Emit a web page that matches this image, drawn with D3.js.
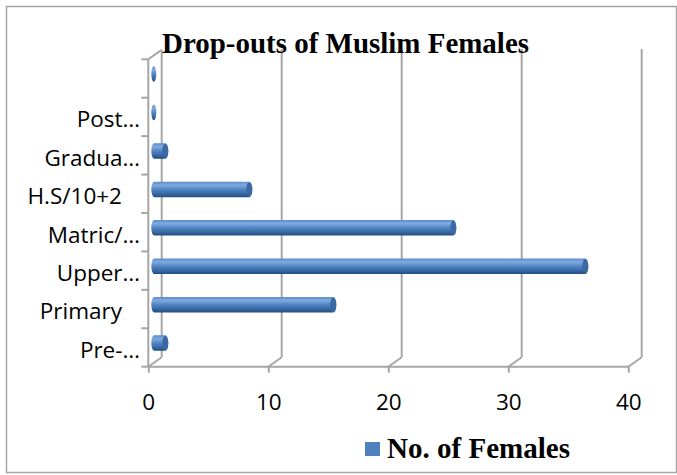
<!DOCTYPE html>
<html>
<head>
<meta charset="utf-8">
<script src="https://cdn.jsdelivr.net/npm/d3@7"></script>
<style>
  html, body { margin: 0; padding: 0; background: #fff; }
  svg { display: block; }
</style>
</head>
<body>
<svg id="chart" width="677" height="475"></svg>
<script>
// ---- data (top to bottom as displayed) ----
const categories = ["", "Post…", "Gradua…", "H.S/10+2", "Matric/…", "Upper…", "Primary", "Pre-…"];
const values     = [0, 0, 1, 8, 25, 36, 15, 1];
const xTicks     = [0, 10, 20, 30, 40];
const chartTitle = "Drop-outs of Muslim Females";
const seriesName = "No. of Females";

const svg = d3.select("#chart");

// outer frame
svg.append("rect").attr("x", 6.5).attr("y", 6.5).attr("width", 670).attr("height", 466)
  .attr("fill", "#fff").attr("stroke", "#a6a6a6").attr("stroke-width", 1.5);

const x = d3.scaleLinear().domain([0, 40]).range([148.3, 628.3]);
const y = d3.scaleBand().domain(categories).range([59.3, 366.7]).paddingInner(0).paddingOuter(0);
const dx = 13.4, dy = -9.4; // depth offset
const yTop = 49, yBase = 366.7;

const defs = svg.append("defs");
const grad = defs.append("linearGradient").attr("id", "barGrad")
  .attr("x1", 0).attr("y1", 0).attr("x2", 0).attr("y2", 1);
[[0, "#5a8bcb"], [0.22, "#80abe0"], [0.5, "#5285c3"], [0.82, "#33649f"], [1, "#244d7c"]]
  .forEach(([o, c]) => grad.append("stop").attr("offset", o).attr("stop-color", c));

const grid = svg.append("g").attr("fill", "none").attr("stroke", "#a6a6a6").attr("stroke-width", 2);

// back vertical gridlines + floor diagonals
xTicks.forEach(t => {
  grid.append("line").attr("x1", x(t) + dx).attr("x2", x(t) + dx)
    .attr("y1", yBase + dy).attr("y2", t === 0 ? yTop + 1 : yTop);
  grid.append("line").attr("x1", x(t)).attr("y1", yBase)
    .attr("x2", x(t) + dx).attr("y2", yBase + dy);
});
// left wall top diagonal
grid.append("line").attr("x1", x(0)).attr("y1", y.range()[0])
  .attr("x2", x(0) + dx).attr("y2", y.range()[0] + dy);

// front x axis
const xAxis = d3.axisBottom(x).tickValues(xTicks).tickSize(6).tickPadding(10).tickFormat(d3.format("d"));
const gx = svg.append("g").attr("transform", `translate(0,${yBase})`).call(xAxis);
gx.select(".domain").attr("stroke", "#a6a6a6").attr("stroke-width", 2).attr("d", `M${x(0)},0H${x(40)}`);
gx.selectAll(".tick line").attr("stroke", "#a6a6a6").attr("stroke-width", 2);
gx.selectAll(".tick text").attr("font-family", "'Open Sans', sans-serif").attr("font-size", 22.5)
  .attr("fill", "#000").attr("dy", null).attr("y", 43.5);

// front y axis
const yAxis = d3.axisLeft(y).tickSize(0).tickFormat("");
const gy = svg.append("g").attr("transform", `translate(${x(0)},0)`).call(yAxis);
gy.select(".domain").attr("stroke", "#a6a6a6").attr("stroke-width", 2).attr("d", `M0,${y.range()[0]}V${yBase}`);
// category boundary ticks
const bounds = categories.map(c => y(c)).concat([y.range()[1]]);
svg.append("g").selectAll("line").data(bounds).join("line")
  .attr("x1", x(0) - 7).attr("x2", x(0)).attr("y1", d => d).attr("y2", d => d)
  .attr("stroke", "#a6a6a6").attr("stroke-width", 2);

// category labels
svg.append("g").selectAll("text").data(categories).join("text")
  .attr("x", d => d.endsWith("…") ? 140 : 122)
  .attr("y", d => y(d) + y.bandwidth() / 2 + 10.3)
  .attr("text-anchor", "end")
  .attr("font-family", "'Open Sans', sans-serif").attr("font-size", 22.5).attr("fill", "#000")
  .text(d => d);

// bars (cylinders at mid depth)
const barH = 15.5;
const bars = svg.append("g");
categories.forEach((c, i) => {
  const cy = y(c) + y.bandwidth() / 2 - 4.4;
  const x0 = x(0) + 3, x1 = x(values[i]) + 8;
  bars.append("rect").attr("x", x0).attr("y", cy - barH / 2)
    .attr("width", x1 - x0).attr("height", barH)
    .attr("rx", 3).attr("ry", barH / 2)
    .attr("fill", "url(#barGrad)");
  if (values[i] > 0) {
    bars.append("ellipse").attr("cx", x1 - 3).attr("cy", cy).attr("rx", 3).attr("ry", barH / 2 - 0.5)
      .attr("fill", "#3b69a4");
  }
});

// title
svg.append("text").attr("x", 345.5).attr("y", 53).attr("text-anchor", "middle")
  .attr("font-family", "'Liberation Serif', 'Times New Roman', serif").attr("font-weight", "bold")
  .attr("font-size", 28.5).attr("textLength", 367).attr("lengthAdjust", "spacingAndGlyphs")
  .attr("fill", "#000").text(chartTitle);

// legend
const lg = svg.append("g");
lg.append("rect").attr("x", 365).attr("y", 442).attr("width", 15).attr("height", 14).attr("fill", "#4f81bd");
lg.append("text").attr("x", 387).attr("y", 458)
  .attr("font-family", "'Liberation Serif', 'Times New Roman', serif").attr("font-weight", "bold")
  .attr("font-size", 29).attr("textLength", 183).attr("lengthAdjust", "spacingAndGlyphs")
  .attr("fill", "#000").text(seriesName);
</script>
</body>
</html>
